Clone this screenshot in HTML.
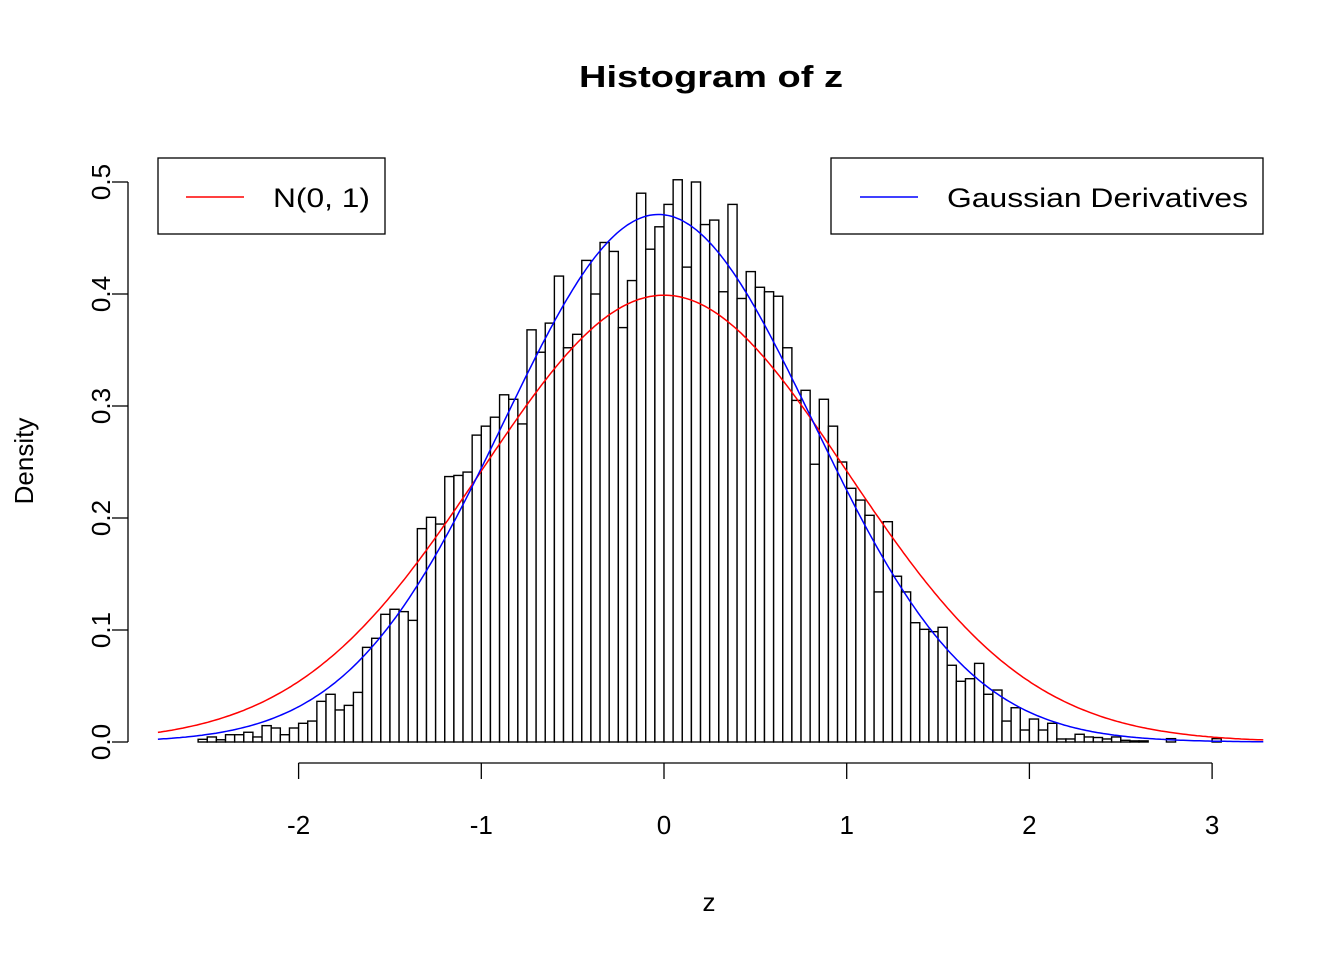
<!DOCTYPE html>
<html><head><meta charset="utf-8">
<style>
body{margin:0;background:#fff;}
svg{display:block;font-family:"Liberation Sans",Arial,sans-serif;}
</style></head>
<body>
<svg id="chart" width="1344" height="960" viewBox="0 0 1344 960" xmlns="http://www.w3.org/2000/svg">
<rect width="1344" height="960" fill="#fff"/>
<text x="711" y="87" text-anchor="middle" font-size="31" font-weight="bold" textLength="264" lengthAdjust="spacingAndGlyphs">Histogram of z</text>
<text x="709" y="911" text-anchor="middle" font-size="26">z</text>
<text transform="translate(33,461) rotate(-90)" text-anchor="middle" font-size="26">Density</text>
<g id="bars"></g>
<g id="curves"></g>
<g id="xaxis"></g>
<g id="yaxis"></g>
<g>
<rect x="158" y="158" width="227" height="76" fill="#fff" stroke="#000" stroke-width="1.3"/>
<line x1="186" y1="197" x2="244" y2="197" stroke="#f00" stroke-width="1.5"/>
<text x="273" y="207" font-size="27" textLength="97" lengthAdjust="spacingAndGlyphs">N(0, 1)</text>
</g>
<g>
<rect x="831" y="158" width="432" height="76" fill="#fff" stroke="#000" stroke-width="1.3"/>
<line x1="860" y1="197" x2="918" y2="197" stroke="#00f" stroke-width="1.5"/>
<text x="947" y="207" font-size="27" textLength="301" lengthAdjust="spacingAndGlyphs">Gaussian Derivatives</text>
</g>
</svg>
<script>
const binStart = -2.55;
const binWidth = 0.05;
const densities = [
0.0024,0.0045,0.002,0.0065,0.0065,0.0087,0.0045,0.0146,0.0125,0.0065,
0.0125,0.0167,0.0187,0.0363,0.0426,0.0286,0.0327,0.0443,0.0845,0.0926,
0.114,0.1185,0.1164,0.1086,0.1905,0.2006,0.1946,0.237,0.238,0.241,
0.274,0.282,0.290,0.310,0.306,0.284,0.368,0.348,0.374,0.416,
0.352,0.364,0.430,0.400,0.446,0.438,0.370,0.412,0.490,0.440,
0.460,0.480,0.502,0.424,0.500,0.462,0.466,0.402,0.480,0.396,
0.420,0.406,0.402,0.398,0.352,0.305,0.314,0.248,0.306,0.282,
0.250,0.2265,0.216,0.2024,0.134,0.1967,0.148,0.134,0.1065,0.1006,
0.0985,0.1024,0.0685,0.0542,0.0565,0.0702,0.0426,0.0464,0.0187,0.0306,
0.0107,0.0205,0.0107,0.0167,0.0027,0.0027,0.0069,0.0045,0.004,0.0027,
0.0045,0.0015,0.001,0.001,0,0,0.003,0,0,0,0,0.003
];
const xTicks = [-2,-1,0,1,2,3];
const yTicks = [0,0.1,0.2,0.3,0.4,0.5];
const yTickLabels = ["0.0","0.1","0.2","0.3","0.4","0.5"];
const normalParams = [0, 1];          // mean, sd
const gdParams = [-0.03, 0.847];      // fitted mean, sd
const xDomain = [-2.77, 3.28];

const NS = "http://www.w3.org/2000/svg";
const xs = z => 664 + z * 182.7;
const ys = d => 742 - d * 1120;
function mk(tag, attrs, parent){const e=document.createElementNS(NS,tag);for(const k in attrs)e.setAttribute(k,attrs[k]);parent.appendChild(e);return e;}

const barsG = document.getElementById('bars');
densities.forEach((d,i)=>{
  const x0 = xs(binStart + i*binWidth), x1 = xs(binStart + (i+1)*binWidth);
  const r = mk('rect',{x:x0,y:ys(d),width:x1-x0,height:ys(0)-ys(d),fill:'#fff',stroke:'#000','stroke-width':1.4},barsG);
  
  
});

function dens(z,m,s){const u=(z-m)/s;return Math.exp(-u*u/2)/Math.sqrt(2*Math.PI)/s;}
const curvesG = document.getElementById('curves');
[[normalParams,'#f00','normal-curve'],[gdParams,'#00f','gaussian-derivatives-curve']].forEach(([p,c,n])=>{
  let pts=[];
  for(let k=0;k<=400;k++){const z=xDomain[0]+(xDomain[1]-xDomain[0])*k/400;pts.push(xs(z).toFixed(1)+','+ys(dens(z,p[0],p[1])).toFixed(1));}
  const pl = mk('polyline',{points:pts.join(' '),fill:'none',stroke:c,'stroke-width':1.5},curvesG);
  
  
});

const xa = document.getElementById('xaxis');
mk('line',{x1:xs(xTicks[0]),y1:763,x2:xs(xTicks[xTicks.length-1]),y2:763,stroke:'#000','stroke-width':1.3},xa);
xTicks.forEach(t=>{
  mk('line',{x1:xs(t),y1:763,x2:xs(t),y2:779,stroke:'#000','stroke-width':1.3},xa);
  const tx = mk('text',{x:xs(t),y:834,'text-anchor':'middle','font-size':26},xa);
  tx.textContent = t;
  
  
});
const ya = document.getElementById('yaxis');
mk('line',{x1:128,y1:ys(yTicks[0]),x2:128,y2:ys(yTicks[yTicks.length-1]),stroke:'#000','stroke-width':1.3},ya);
yTicks.forEach((t,i)=>{
  mk('line',{x1:112,y1:ys(t),x2:128,y2:ys(t),stroke:'#000','stroke-width':1.3},ya);
  const tx = mk('text',{transform:`translate(110,${ys(t)}) rotate(-90)`,'text-anchor':'middle','font-size':26},ya);
  tx.textContent = yTickLabels[i];
  
  
});
</script>
</body></html>
